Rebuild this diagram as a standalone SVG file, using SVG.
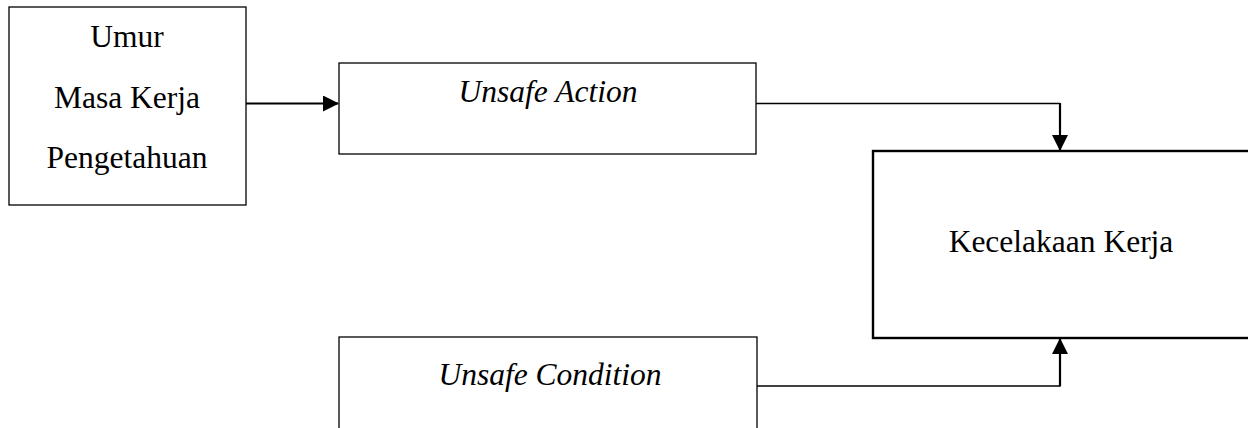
<svg xmlns="http://www.w3.org/2000/svg" width="1248" height="428" viewBox="0 0 1248 428">
<style>
.box{fill:#fff;stroke:#000;stroke-width:1.3}
.thick{fill:#fff;stroke:#000;stroke-width:2.4}
.t{font-family:"Liberation Serif","Times New Roman",serif;font-size:31.5px;fill:#000;text-anchor:middle}
.i{font-style:italic}
.c{fill:none;stroke:#000;stroke-width:1.3}
.c2{fill:none;stroke:#000;stroke-width:2.2}
</style>
<defs>
<marker id="ah" markerWidth="16" markerHeight="16" refX="15" refY="8" orient="auto" markerUnits="userSpaceOnUse">
<path d="M0,0 L16,8 L0,16 Z" fill="#000"/>
</marker>
</defs>
<g id="node-faktor">
<rect class="box" x="9" y="7" width="237" height="198"/>
<text class="t" x="127" y="47">Umur</text>
<text class="t" x="127" y="108">Masa Kerja</text>
<text class="t" x="127" y="168">Pengetahuan</text>
</g>
<g id="node-action">
<rect class="box" x="339" y="63" width="417" height="91"/>
<text class="t i" x="548" y="102">Unsafe Action</text>
</g>
<g id="node-condition">
<rect class="box" x="339" y="337" width="418" height="100"/>
<text class="t i" x="550" y="385">Unsafe Condition</text>
</g>
<g id="node-kecelakaan">
<rect class="thick" x="873" y="151" width="380" height="187"/>
<text class="t" x="1061" y="252">Kecelakaan Kerja</text>
</g>
<g id="connectors">
<path class="c2" d="M246,103.5 L338,103.5" marker-end="url(#ah)"/>
<path class="c" d="M756,103.5 L1060,103.5"/>
<path class="c2" d="M1060,103 L1060,150" marker-end="url(#ah)"/>
<path class="c" d="M757,386 L1060,386"/>
<path class="c2" d="M1060,386.5 L1060,339" marker-end="url(#ah)"/>
</g>
</svg>
